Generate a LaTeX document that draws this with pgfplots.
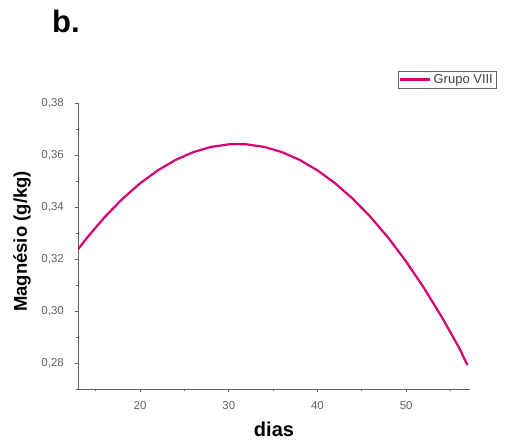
\documentclass[border=0pt]{standalone}
\usepackage{pgfplots}
\pgfplotsset{compat=1.18}
\usepackage{fontspec}
\setmainfont{Liberation Sans}
\definecolor{curve}{RGB}{214,0,112}
\definecolor{axgray}{RGB}{100,100,100}
\begin{document}
\begin{tikzpicture}
\useasboundingbox (0,0) rectangle (511pt,443pt);
\node[font=\bfseries\fontsize{31}{34}\selectfont, anchor=base west, inner sep=0pt] at (52pt,410pt) {b.};
\begin{axis}[
  at={(78pt,54pt)}, anchor=south west,
  scale only axis, width=392pt, height=286pt,
  xmin=13, xmax=57.2, ymin=0.27, ymax=0.38,
  axis x line*=bottom, axis y line*=left,
  axis line style={axgray, line width=0.8pt},
  tick style={axgray, line width=0.7pt},
  tick align=outside,
  major tick length=3pt, minor tick length=2pt,
  xtick={20,30,40,50}, minor xtick={15,25,35,45,55},
  ytick={0.28,0.30,...,0.38}, minor ytick={0.27,0.29,...,0.37},
  /pgf/number format/assume math mode=true,
  yticklabel style={anchor=east, inner sep=0pt, xshift=-11pt,
    /pgf/number format/fixed, /pgf/number format/fixed zerofill,
    /pgf/number format/precision=2, /pgf/number format/use comma},
  xticklabel style={anchor=north, inner sep=0pt, yshift=-9pt},
  ticklabel style={font=\fontsize{11.5}{13}\selectfont, text=axgray},
  xlabel={\textbf{dias}},
  xlabel style={font=\fontsize{20}{22}\selectfont, at={(axis description cs:0.5,-0.1678)}, anchor=base, inner sep=0pt},
  ylabel={\textbf{Magnésio (g/kg)}},
  ylabel style={font=\fontsize{18.5}{21}\selectfont, at={(axis description cs:-0.1429,0.5157)}, anchor=center, inner sep=0pt},
  legend style={at={(0.816,1.112)}, anchor=north west, draw=axgray, line width=0.7pt,
    font=\fontsize{13}{14}\selectfont, text=black!75, inner sep=1pt, row sep=0pt},
  legend cell align=left,
  legend image code/.code={\draw[#1, line width=2.4pt] (0pt,0pt) -- (30pt,0pt);},
]
\addplot[curve, line width=2.2pt] coordinates {
(13,0.3237) (14,0.3281) (16,0.3361) (18,0.3431) (20,0.3491) (22,0.3541)
(24,0.3581) (26,0.3611) (28,0.3631) (30,0.3641) (31,0.3642) (32,0.3641)
(34,0.3631) (36,0.3611) (38,0.3581) (40,0.3541) (42,0.3491) (44,0.3431)
(46,0.3361) (48,0.3281) (50,0.3190) (52,0.3089) (54,0.2978) (56,0.2857) (56.9,0.2792)
};
\addlegendentry{Grupo VIII}
\end{axis}
\end{tikzpicture}
\end{document}
